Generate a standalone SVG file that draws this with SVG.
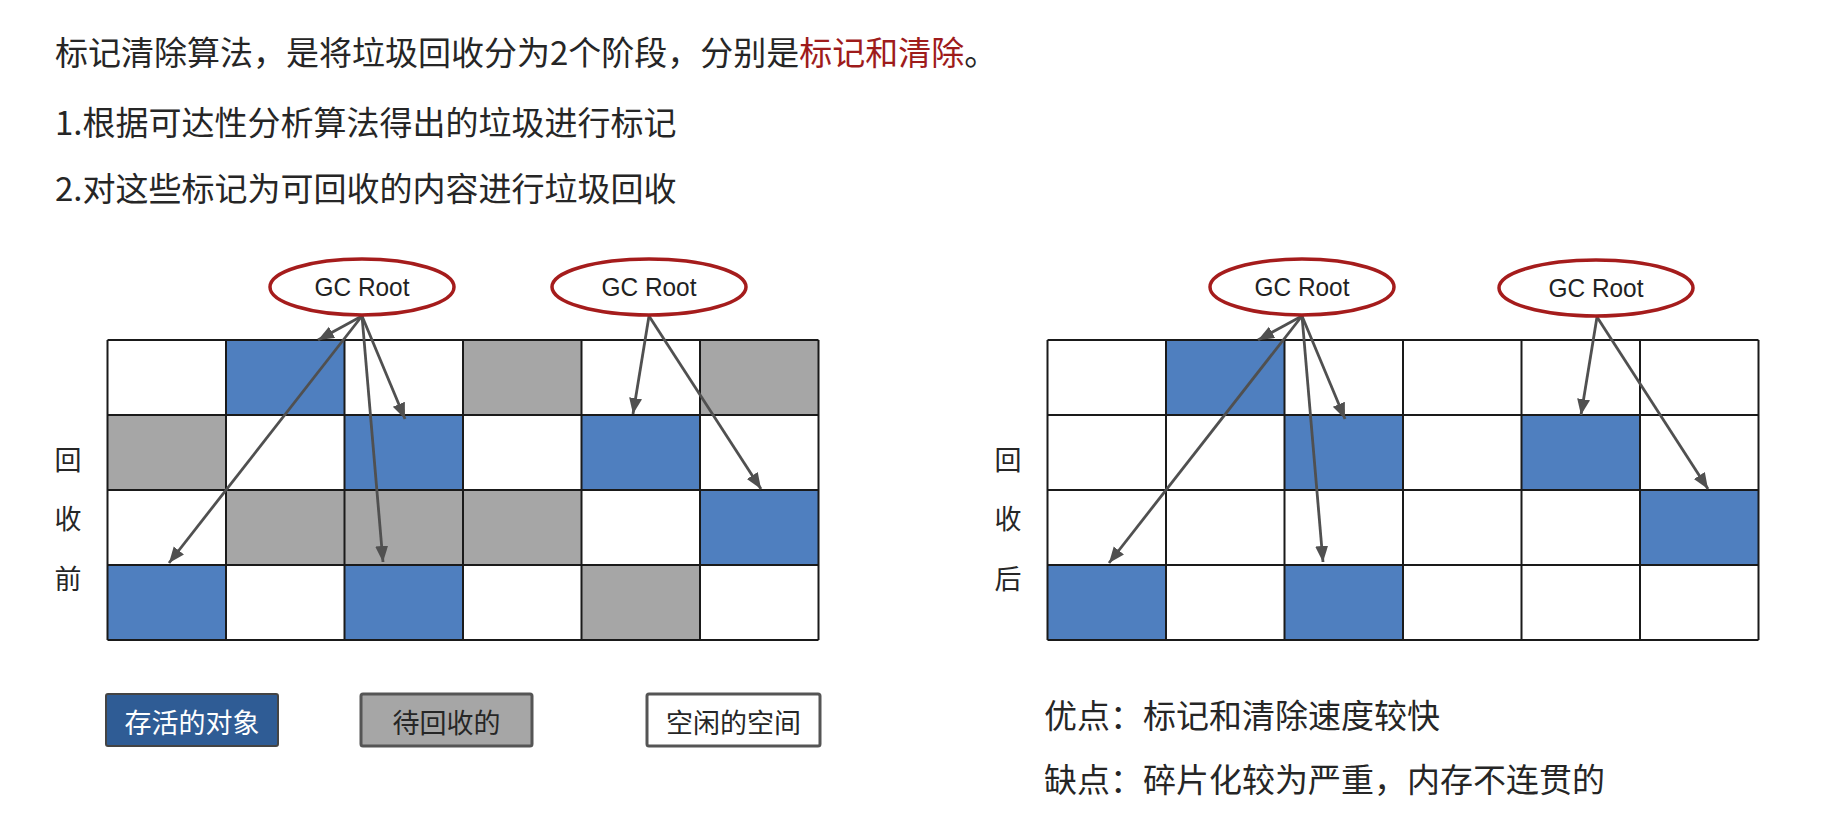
<svg xmlns="http://www.w3.org/2000/svg" width="1833" height="813" viewBox="0 0 1833 813">
<style>
.cn{font-family:"Noto Sans CJK SC","Noto Sans",sans-serif;fill:#262626}
.hd{font-size:33px}
.side{font-size:27px;text-anchor:middle}
.lg{font-size:27px;text-anchor:middle}
.gc{font-family:"Liberation Sans",Arial,sans-serif;font-size:25px;fill:#222;text-anchor:middle}
.root{fill:#fff;stroke:#A51C1C;stroke-width:3.5}
.w{fill:#fff}
.b{fill:#4F7FBF}
.g{fill:#A6A6A6}
.gl{stroke:#1a1a1a;stroke-width:2;fill:none}
.ar{stroke:#505050;stroke-width:2.8;fill:none;marker-end:url(#ah)}
</style>
<defs>
<marker id="ah" markerUnits="userSpaceOnUse" markerWidth="18" markerHeight="14" refX="16" refY="6.5" orient="auto">
<path d="M0,0 L16,6.5 L0,13 z" fill="#505050"/>
</marker>
</defs>
<rect width="1833" height="813" fill="#fff"/>
<g id="heading">
<text class="cn hd" x="55" y="65">标记清除算法，是将垃圾回收分为2个阶段，分别是<tspan fill="#9E1B1B">标记和清除</tspan>。</text>
<text class="cn hd" x="55" y="135">1.根据可达性分析算法得出的垃圾进行标记</text>
<text class="cn hd" x="55" y="201">2.对这些标记为可回收的内容进行垃圾回收</text>
</g>
<g id="grid-before">
<rect class="w" x="107.5" y="340" width="118.5" height="75"/>
<rect class="b" x="226" y="340" width="118.5" height="75"/>
<rect class="w" x="344.5" y="340" width="118.5" height="75"/>
<rect class="g" x="463" y="340" width="118.5" height="75"/>
<rect class="w" x="581.5" y="340" width="118.5" height="75"/>
<rect class="g" x="700" y="340" width="118.5" height="75"/>
<rect class="g" x="107.5" y="415" width="118.5" height="75"/>
<rect class="w" x="226" y="415" width="118.5" height="75"/>
<rect class="b" x="344.5" y="415" width="118.5" height="75"/>
<rect class="w" x="463" y="415" width="118.5" height="75"/>
<rect class="b" x="581.5" y="415" width="118.5" height="75"/>
<rect class="w" x="700" y="415" width="118.5" height="75"/>
<rect class="w" x="107.5" y="490" width="118.5" height="75"/>
<rect class="g" x="226" y="490" width="118.5" height="75"/>
<rect class="g" x="344.5" y="490" width="118.5" height="75"/>
<rect class="g" x="463" y="490" width="118.5" height="75"/>
<rect class="w" x="581.5" y="490" width="118.5" height="75"/>
<rect class="b" x="700" y="490" width="118.5" height="75"/>
<rect class="b" x="107.5" y="565" width="118.5" height="75"/>
<rect class="w" x="226" y="565" width="118.5" height="75"/>
<rect class="b" x="344.5" y="565" width="118.5" height="75"/>
<rect class="w" x="463" y="565" width="118.5" height="75"/>
<rect class="g" x="581.5" y="565" width="118.5" height="75"/>
<rect class="w" x="700" y="565" width="118.5" height="75"/>
<path class="gl" d="M107.5,340H818.5M107.5,415H818.5M107.5,490H818.5M107.5,565H818.5M107.5,640H818.5M107.5,340V640M226,340V640M344.5,340V640M463,340V640M581.5,340V640M700,340V640M818.5,340V640"/>
</g>
<g id="grid-after">
<rect class="w" x="1047.5" y="340" width="711" height="300"/>
<rect class="b" x="1166" y="340" width="118.5" height="75"/>
<rect class="b" x="1284.5" y="415" width="118.5" height="75"/>
<rect class="b" x="1521.5" y="415" width="118.5" height="75"/>
<rect class="b" x="1640" y="490" width="118.5" height="75"/>
<rect class="b" x="1047.5" y="565" width="118.5" height="75"/>
<rect class="b" x="1284.5" y="565" width="118.5" height="75"/>
<path class="gl" d="M1047.5,340H1758.5M1047.5,415H1758.5M1047.5,490H1758.5M1047.5,565H1758.5M1047.5,640H1758.5M1047.5,340V640M1166,340V640M1284.5,340V640M1403,340V640M1521.5,340V640M1640,340V640M1758.5,340V640"/>
</g>
<g id="connectors">
<line class="ar" x1="362" y1="316" x2="318" y2="340"/>
<line class="ar" x1="362" y1="316" x2="169" y2="563"/>
<line class="ar" x1="362" y1="316" x2="383" y2="562"/>
<line class="ar" x1="362" y1="316" x2="405" y2="419"/>
<line class="ar" x1="649" y1="316" x2="633" y2="414"/>
<line class="ar" x1="649" y1="316" x2="761" y2="489"/>
<line class="ar" x1="1302" y1="316" x2="1258" y2="340"/>
<line class="ar" x1="1302" y1="316" x2="1109" y2="563"/>
<line class="ar" x1="1302" y1="316" x2="1323" y2="562"/>
<line class="ar" x1="1302" y1="316" x2="1345" y2="419"/>
<line class="ar" x1="1597" y1="317" x2="1581" y2="415"/>
<line class="ar" x1="1597" y1="317" x2="1708" y2="489"/>
</g>
<g id="root-before-1"><ellipse class="root" cx="362" cy="287" rx="92" ry="28"/><text class="gc" x="362" y="296" textLength="95" lengthAdjust="spacingAndGlyphs">GC Root</text></g>
<g id="root-before-2"><ellipse class="root" cx="649" cy="287" rx="97" ry="28"/><text class="gc" x="649" y="296" textLength="95" lengthAdjust="spacingAndGlyphs">GC Root</text></g>
<g id="root-after-1"><ellipse class="root" cx="1302" cy="287" rx="92" ry="28"/><text class="gc" x="1302" y="296" textLength="95" lengthAdjust="spacingAndGlyphs">GC Root</text></g>
<g id="root-after-2"><ellipse class="root" cx="1596" cy="288" rx="97" ry="28"/><text class="gc" x="1596" y="297" textLength="95" lengthAdjust="spacingAndGlyphs">GC Root</text></g>
<g id="label-before">
<text class="cn side" x="68" y="470">回</text>
<text class="cn side" x="68" y="529">收</text>
<text class="cn side" x="68" y="589">前</text>
</g>
<g id="label-after">
<text class="cn side" x="1008" y="470">回</text>
<text class="cn side" x="1008" y="529">收</text>
<text class="cn side" x="1008" y="589">后</text>
</g>
<g id="legend-live"><rect x="106" y="694" width="172" height="52" rx="2" fill="#2F5C95" stroke="#444" stroke-width="2"/><text class="cn lg" x="192" y="733" style="fill:#fff">存活的对象</text></g>
<g id="legend-garbage"><rect x="361" y="694" width="171" height="52" rx="2" fill="#A6A6A6" stroke="#555" stroke-width="3"/><text class="cn lg" x="446.5" y="733">待回收的</text></g>
<g id="legend-free"><rect x="647" y="694" width="173" height="52" rx="2" fill="#fff" stroke="#555" stroke-width="3"/><text class="cn lg" x="733.5" y="733">空闲的空间</text></g>
<g id="pros-cons">
<text class="cn hd" x="1044" y="728">优点：标记和清除速度较快</text>
<text class="cn hd" x="1044" y="792">缺点：碎片化较为严重，内存不连贯的</text>
</g>
</svg>
